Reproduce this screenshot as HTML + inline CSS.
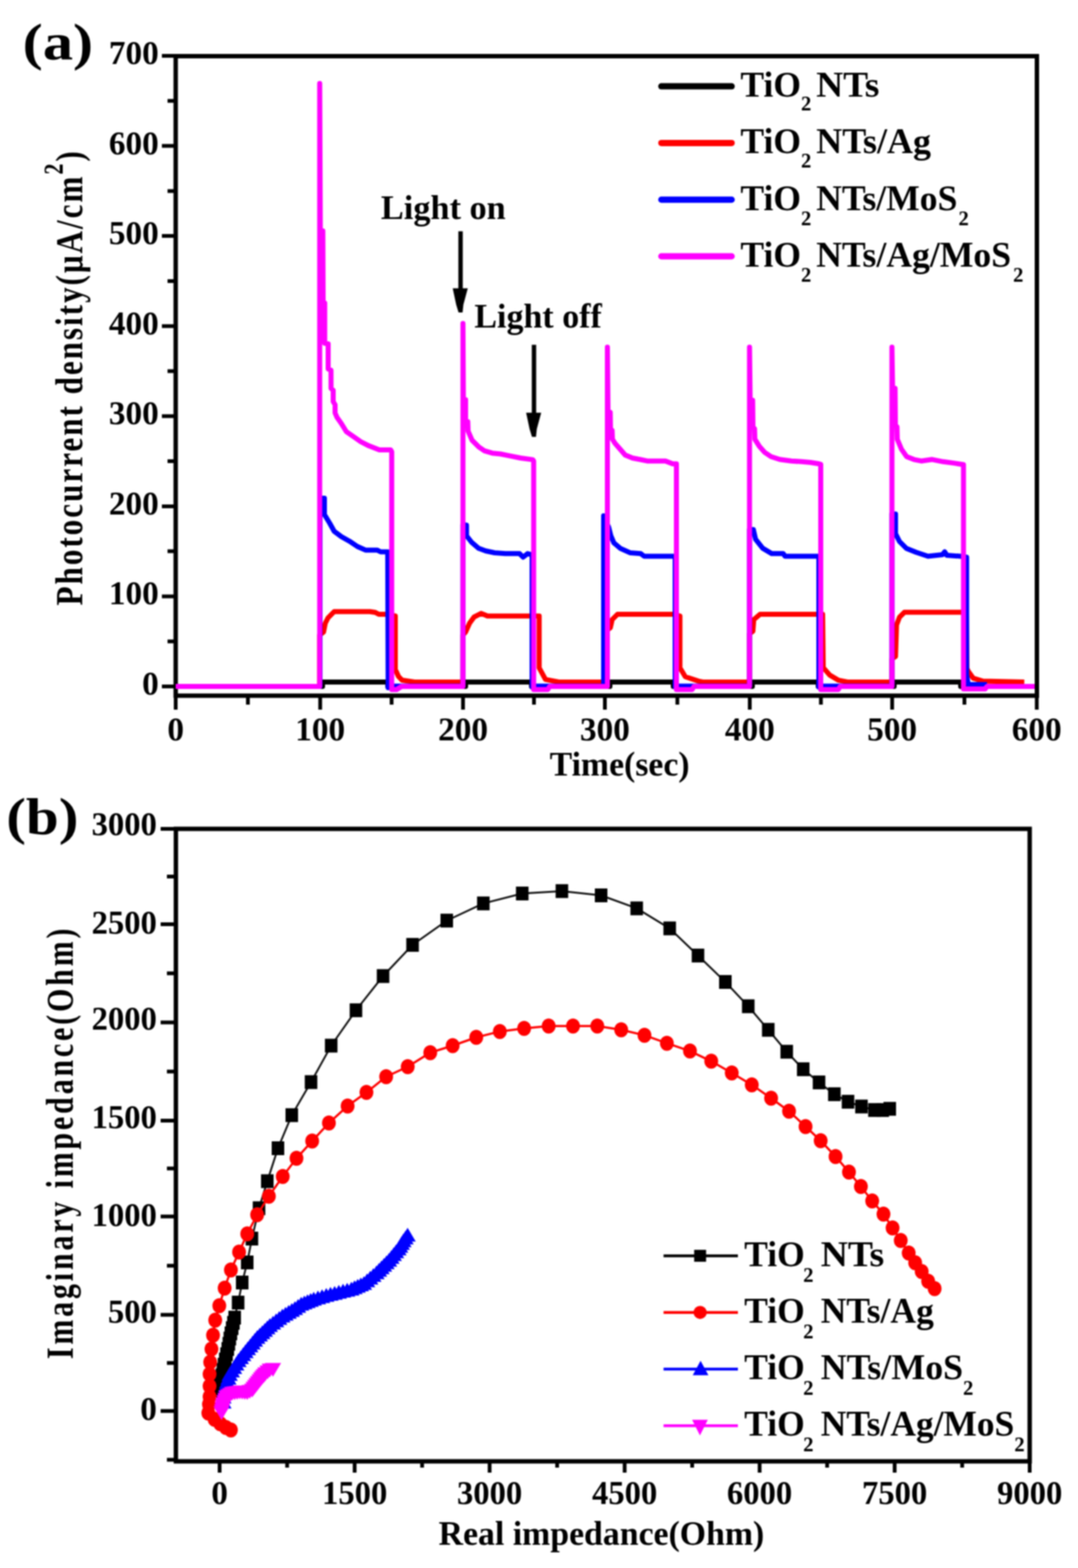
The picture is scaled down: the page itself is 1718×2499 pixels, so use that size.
<!DOCTYPE html>
<html><head><meta charset="utf-8"><title>Photocurrent and EIS of TiO2 NTs composites</title>
<style>
html,body{margin:0;padding:0;background:#fff;}
svg{display:block;}
#fig{width:1718px;height:2499px;filter:blur(1px);}
</style></head>
<body>
<div id="fig">
<svg width="1718" height="2499" viewBox="0 0 1718 2499">
<rect width="1718" height="2499" fill="#fff"/>
<g id="panel-a">
<path d="M280.0,89.5 H1652.5 V1108.8 H280.0 Z" fill="none" stroke="#000" stroke-width="7" stroke-linejoin="miter"/>
<path d="M258,1094.0H280.0M267,1022.2H280.0M258,950.4H280.0M267,878.6H280.0M258,806.9H280.0M267,735.1H280.0M258,663.3H280.0M267,591.5H280.0M258,519.7H280.0M267,447.9H280.0M258,376.1H280.0M267,304.4H280.0M258,232.6H280.0M267,160.8H280.0M258,89.0H280.0M280.0,1108.8V1131M395.1,1108.8V1123M510.3,1108.8V1131M624.1,1108.8V1123M737.9,1108.8V1131M851.0,1108.8V1123M964.0,1108.8V1131M1079.5,1108.8V1123M1194.9,1108.8V1131M1308.3,1108.8V1123M1421.8,1108.8V1131M1537.0,1108.8V1123M1652.3,1108.8V1131" stroke="#000" stroke-width="6" fill="none"/>
<g font-family="'Liberation Serif','Times New Roman',serif" font-weight="bold" font-size="53" fill="#000">
<text x="253" y="1107.0" text-anchor="end">0</text>
<text x="253" y="963.4" text-anchor="end">100</text>
<text x="253" y="819.9" text-anchor="end">200</text>
<text x="253" y="676.3" text-anchor="end">300</text>
<text x="253" y="532.7" text-anchor="end">400</text>
<text x="253" y="389.1" text-anchor="end">500</text>
<text x="253" y="245.6" text-anchor="end">600</text>
<text x="253" y="102.0" text-anchor="end">700</text>
<text x="280.0" y="1180" text-anchor="middle">0</text>
<text x="510.3" y="1180" text-anchor="middle">100</text>
<text x="737.9" y="1180" text-anchor="middle">200</text>
<text x="964.0" y="1180" text-anchor="middle">300</text>
<text x="1194.9" y="1180" text-anchor="middle">400</text>
<text x="1421.8" y="1180" text-anchor="middle">500</text>
<text x="1652.3" y="1180" text-anchor="middle">600</text>
</g>
<text x="876" y="1236" font-family="'Liberation Serif','Times New Roman',serif" font-weight="bold" font-size="54" textLength="223" lengthAdjust="spacingAndGlyphs">Time(sec)</text>
<text transform="translate(131,965) rotate(-90) scale(0.8,1)" font-family="'Liberation Serif','Times New Roman',serif" font-weight="bold" font-size="62" textLength="905.0" lengthAdjust="spacing">Photocurrent density(&#956;A/cm<tspan font-size="44" dy="-31">2</tspan><tspan dy="31">)</tspan></text>
<text x="36" y="94.8" font-family="'Liberation Serif','Times New Roman',serif" font-weight="bold" font-size="82" textLength="112.5" lengthAdjust="spacingAndGlyphs">(a)</text>
<polyline points="280.0,1094.0 514.0,1094.0 514.0,1087.0 618.0,1087.0 618.0,1094.0 742.0,1094.0 742.0,1087.0 847.0,1087.0 847.0,1094.0 972.0,1094.0 972.0,1087.0 1073.0,1087.0 1073.0,1094.0 1199.0,1094.0 1199.0,1087.0 1304.0,1087.0 1304.0,1094.0 1425.0,1094.0 1425.0,1087.0 1531.0,1087.0 1531.0,1094.0 1570.0,1094.0" fill="none" stroke="#000000" stroke-width="8" stroke-linejoin="round" stroke-linecap="butt"/>
<polyline points="280.0,1094.0 509.5,1094.0 509.5,1012.0 515.6,1007.4 518.4,993.2 522.7,984.7 532.6,974.7 554.0,974.7 589.5,974.7 598.0,976.0 603.7,979.0 615.0,979.0 630.0,981.8 630.0,1067.0 635.0,1078.0 640.7,1084.0 660.6,1087.0 737.8,1087.0 737.8,1012.0 742.0,1007.4 748.4,993.2 755.5,983.3 766.9,977.6 776.9,981.8 846.5,981.8 859.3,981.8 859.3,1064.3 869.3,1082.8 890.6,1087.0 968.0,1087.0 968.0,1004.0 972.7,1000.3 975.6,987.5 984.1,979.0 992.6,979.0 1073.7,979.0 1083.6,981.8 1083.6,1064.3 1092.1,1078.5 1113.5,1085.6 1120.0,1087.0 1194.5,1087.0 1194.5,1010.0 1199.9,1006.0 1201.3,987.5 1211.3,979.0 1303.7,979.0 1311.0,979.0 1312.0,1064.0 1322.1,1075.7 1336.4,1084.2 1350.6,1087.0 1421.5,1087.0 1421.5,1050.0 1427.2,1046.3 1428.8,996.2 1433.5,983.6 1441.3,975.8 1532.2,975.8 1540.0,976.0 1541.0,1065.0 1543.1,1069.8 1551.0,1080.8 1566.6,1085.5 1632.4,1087.0" fill="none" stroke="#ff0000" stroke-width="8" stroke-linejoin="round" stroke-linecap="butt"/>
<polyline points="280.0,1094.0 510.0,1094.0 510.0,794.0 517.0,794.0 517.0,820.0 525.5,834.0 532.6,846.8 544.0,855.3 556.8,862.4 569.6,871.0 582.4,876.7 600.9,876.7 606.6,879.5 617.9,879.5 618.6,1096.0 626.0,1093.5 737.8,1093.5 737.8,836.0 743.5,836.9 743.5,853.9 751.3,863.9 762.6,873.8 774.0,878.0 788.2,881.0 805.3,882.3 828.0,882.3 833.7,888.0 840.8,882.3 846.5,883.8 848.0,884.0 848.0,1095.0 853.0,1093.5 962.0,1093.5 962.0,822.0 970.0,840.0 973.5,853.9 978.4,865.3 988.4,873.8 1004.0,880.9 1021.0,882.3 1026.8,886.6 1073.7,886.6 1076.0,887.0 1076.0,1095.0 1081.0,1093.5 1194.5,1093.5 1194.5,844.0 1200.6,844.0 1204.2,859.6 1215.5,873.8 1229.8,882.3 1248.2,882.3 1251.1,886.6 1303.7,886.6 1305.0,887.0 1305.0,1095.0 1310.0,1093.5 1421.5,1093.5 1421.5,819.0 1427.2,819.2 1427.2,850.5 1433.5,863.0 1444.5,874.0 1460.1,880.3 1478.9,886.5 1502.0,884.0 1505.5,879.5 1509.0,885.0 1530.6,886.5 1540.5,888.0 1540.5,1075.0 1543.0,1091.0 1572.9,1091.0" fill="none" stroke="#0000ff" stroke-width="8" stroke-linejoin="round" stroke-linecap="butt"/>
<polyline points="280.0,1094.0 509.5,1094.0 509.5,133.0 510.5,368.0 514.5,368.0 515.0,483.0 517.5,483.0 517.5,547.0 523.0,548.0 523.0,588.0 527.5,590.0 527.6,619.0 531.0,622.0 531.0,640.0 534.0,645.0 534.0,658.0 537.0,665.0 544.0,675.0 552.0,688.0 563.6,696.0 575.0,704.0 588.0,710.6 604.6,717.0 622.6,717.0 624.3,720.0 624.3,1099.0 632.0,1099.0 640.0,1094.0 737.8,1094.0 737.8,515.5 738.5,637.0 742.0,637.0 742.0,672.0 745.5,672.0 746.0,687.0 752.3,701.6 762.6,711.9 771.7,718.3 784.6,722.2 797.5,723.5 810.4,726.1 829.8,730.0 849.2,732.6 850.5,735.0 850.5,1099.0 873.0,1099.0 876.0,1094.0 968.0,1094.0 968.0,553.3 969.0,656.0 972.5,657.0 973.0,686.0 975.5,686.0 976.0,700.0 980.2,706.7 988.4,716.0 996.5,725.3 1008.0,730.0 1019.8,732.3 1031.4,734.7 1060.5,734.7 1072.1,739.3 1078.0,739.3 1078.0,1099.0 1103.0,1099.0 1106.0,1094.0 1194.5,1094.0 1194.5,553.3 1195.5,637.0 1199.5,638.0 1200.0,682.0 1202.5,683.0 1203.0,700.0 1210.2,711.4 1218.4,720.7 1228.8,727.7 1242.8,732.3 1261.4,734.7 1277.7,735.8 1291.6,737.0 1305.6,739.3 1308.0,740.0 1308.0,1099.0 1336.0,1099.0 1339.0,1094.0 1421.5,1094.0 1421.5,553.3 1422.5,618.0 1426.5,619.0 1427.0,679.0 1429.5,680.0 1430.0,700.0 1436.7,716.0 1444.9,727.7 1456.5,732.3 1468.1,734.7 1485.6,732.3 1503.0,735.8 1520.5,738.1 1535.5,740.5 1535.5,1098.0 1570.0,1098.0 1573.0,1094.0 1649.0,1094.0" fill="none" stroke="#ff00ff" stroke-width="8" stroke-linejoin="round" stroke-linecap="butt"/>
<g fill="#000">
<rect x="730.5" y="368.6" width="7" height="93.9"/>
<polygon points="721.5,459.5 745.5,459.5 738.5,485.5 737.2,498.0 730.8,498.0 727.0,485.5"/>
<rect x="847.5" y="549.5" width="7" height="111.3"/>
<polygon points="838.5,657.8 862.5,657.8 855.5,683.8 854.2,696.3 847.8,696.3 844.0,683.8"/>
</g>
<g font-family="'Liberation Serif','Times New Roman',serif" font-weight="bold" font-size="54">
<text x="607" y="348.5" textLength="199" lengthAdjust="spacingAndGlyphs">Light on</text>
<text x="756" y="522" textLength="203" lengthAdjust="spacingAndGlyphs">Light off</text>
</g>
<line x1="1054" y1="137.6" x2="1166" y2="137.6" stroke="#000000" stroke-width="10" stroke-linecap="round"/>
<g font-family="'Liberation Serif','Times New Roman',serif" font-weight="bold" fill="#000">
<text x="1180" y="153.9" font-size="57" textLength="96.5" lengthAdjust="spacingAndGlyphs">TiO</text>
<text x="1276.5" y="176.4" font-size="33">2</text>
<text x="1300.8" y="153.9" font-size="57" textLength="100.6" lengthAdjust="spacingAndGlyphs">NTs</text>
</g>
<line x1="1054" y1="227.9" x2="1166" y2="227.9" stroke="#ff0000" stroke-width="10" stroke-linecap="round"/>
<g font-family="'Liberation Serif','Times New Roman',serif" font-weight="bold" fill="#000">
<text x="1180" y="244.2" font-size="57" textLength="96.5" lengthAdjust="spacingAndGlyphs">TiO</text>
<text x="1276.5" y="266.7" font-size="33">2</text>
<text x="1300.8" y="244.2" font-size="57" textLength="183.0" lengthAdjust="spacingAndGlyphs">NTs/Ag</text>
</g>
<line x1="1054" y1="318.2" x2="1166" y2="318.2" stroke="#0000ff" stroke-width="10" stroke-linecap="round"/>
<g font-family="'Liberation Serif','Times New Roman',serif" font-weight="bold" fill="#000">
<text x="1180" y="334.5" font-size="57" textLength="96.5" lengthAdjust="spacingAndGlyphs">TiO</text>
<text x="1276.5" y="358.5" font-size="33">2</text>
<text x="1300.8" y="334.5" font-size="57" textLength="224.9" lengthAdjust="spacingAndGlyphs">NTs/MoS</text>
<text x="1527.4" y="358.5" font-size="33">2</text>
</g>
<line x1="1054" y1="408.5" x2="1166" y2="408.5" stroke="#ff00ff" stroke-width="10" stroke-linecap="round"/>
<g font-family="'Liberation Serif','Times New Roman',serif" font-weight="bold" fill="#000">
<text x="1180" y="424.8" font-size="57" textLength="96.5" lengthAdjust="spacingAndGlyphs">TiO</text>
<text x="1276.5" y="448.8" font-size="33">2</text>
<text x="1300.8" y="424.8" font-size="57" textLength="310.6" lengthAdjust="spacingAndGlyphs">NTs/Ag/MoS</text>
<text x="1614.5" y="448.8" font-size="33">2</text>
</g>
</g>
<g id="panel-b">
<path d="M280.3,1321.0 H1641.0 V2329.0 H280.3 Z" fill="none" stroke="#000" stroke-width="7"/>
<path d="M256,2248.8H280.3M266,2172.2H280.3M256,2095.6H280.3M266,2017.2H280.3M256,1938.7H280.3M266,1862.3H280.3M256,1786.0H280.3M266,1707.7H280.3M256,1629.4H280.3M266,1551.2H280.3M256,1472.9H280.3M266,1397.0H280.3M256,1321.0H280.3M266,2326.5H280.3M350.0,2329.0V2347M457.6,2329.0V2339M565.2,2329.0V2347M672.7,2329.0V2339M780.3,2329.0V2347M887.9,2329.0V2339M995.5,2329.0V2347M1103.1,2329.0V2339M1210.6,2329.0V2347M1318.2,2329.0V2339M1425.8,2329.0V2347M1533.4,2329.0V2339M1641.0,2329.0V2347" stroke="#000" stroke-width="6" fill="none"/>
<g font-family="'Liberation Serif','Times New Roman',serif" font-weight="bold" font-size="53" fill="#000">
<text x="250" y="2263.0" text-anchor="end">0</text>
<text x="172.0" y="2108.0" textLength="78.0" lengthAdjust="spacingAndGlyphs">500</text>
<text x="146.0" y="1954.0" textLength="104.0" lengthAdjust="spacingAndGlyphs">1000</text>
<text x="146.0" y="1797.5" textLength="104.0" lengthAdjust="spacingAndGlyphs">1500</text>
<text x="146.0" y="1641.0" textLength="104.0" lengthAdjust="spacingAndGlyphs">2000</text>
<text x="146.0" y="1487.5" textLength="104.0" lengthAdjust="spacingAndGlyphs">2500</text>
<text x="146.0" y="1331.0" textLength="104.0" lengthAdjust="spacingAndGlyphs">3000</text>
</g>
<g font-family="'Liberation Serif','Times New Roman',serif" font-weight="bold" font-size="53" fill="#000">
<text x="350.0" y="2397" text-anchor="middle">0</text>
<text x="513.2" y="2397" textLength="104.0" lengthAdjust="spacingAndGlyphs">1500</text>
<text x="728.3" y="2397" textLength="104.0" lengthAdjust="spacingAndGlyphs">3000</text>
<text x="943.5" y="2397" textLength="104.0" lengthAdjust="spacingAndGlyphs">4500</text>
<text x="1158.6" y="2397" textLength="104.0" lengthAdjust="spacingAndGlyphs">6000</text>
<text x="1373.8" y="2397" textLength="104.0" lengthAdjust="spacingAndGlyphs">7500</text>
<text x="1589.0" y="2397" textLength="104.0" lengthAdjust="spacingAndGlyphs">9000</text>
</g>
<text x="699" y="2462" font-family="'Liberation Serif','Times New Roman',serif" font-weight="bold" font-size="54" textLength="519" lengthAdjust="spacingAndGlyphs">Real impedance(Ohm)</text>
<text transform="translate(116,2166) rotate(-90) scale(0.78,1)" font-family="'Liberation Serif','Times New Roman',serif" font-weight="bold" font-size="61" textLength="879.5" lengthAdjust="spacing">Imaginary impedance(Ohm)</text>
<text x="10" y="1329" font-family="'Liberation Serif','Times New Roman',serif" font-weight="bold" font-size="82" textLength="115" lengthAdjust="spacingAndGlyphs">(b)</text>
<polyline points="347.0,2216.0 349.5,2208.0 352.0,2200.0 353.7,2191.7 355.3,2183.3 357.0,2175.0 359.0,2166.7 361.0,2158.3 363.0,2150.0 364.7,2141.7 366.3,2133.3 368.0,2125.0 370.0,2116.7 372.0,2108.3 374.0,2100.0 379.5,2076.0 386.0,2044.0 394.0,2012.0 401.5,1974.0 412.8,1925.6 426.0,1882.5 443.0,1830.0 465.0,1777.3 495.7,1724.6 527.8,1666.5 567.3,1610.1 610.5,1555.6 657.5,1505.9 712.0,1467.2 770.3,1439.8 832.3,1424.0 895.5,1420.2 958.0,1427.0 1014.7,1447.7 1067.3,1479.6 1112.4,1522.9 1156.0,1565.0 1192.5,1603.7 1224.4,1641.3 1253.8,1676.2 1280.1,1704.1 1305.3,1725.1 1329.7,1743.9 1351.5,1755.9 1372.9,1763.5 1393.6,1769.1 1406.8,1769.1 1418.0,1767.2" fill="none" stroke="#111" stroke-width="3"/>
<g fill="#000"><rect x="337.0" y="2205.0" width="20" height="22"/><rect x="339.5" y="2197.0" width="20" height="22"/><rect x="342.0" y="2189.0" width="20" height="22"/><rect x="343.7" y="2180.7" width="20" height="22"/><rect x="345.3" y="2172.3" width="20" height="22"/><rect x="347.0" y="2164.0" width="20" height="22"/><rect x="349.0" y="2155.7" width="20" height="22"/><rect x="351.0" y="2147.3" width="20" height="22"/><rect x="353.0" y="2139.0" width="20" height="22"/><rect x="354.7" y="2130.7" width="20" height="22"/><rect x="356.3" y="2122.3" width="20" height="22"/><rect x="358.0" y="2114.0" width="20" height="22"/><rect x="360.0" y="2105.7" width="20" height="22"/><rect x="362.0" y="2097.3" width="20" height="22"/><rect x="364.0" y="2089.0" width="20" height="22"/><rect x="369.5" y="2065.0" width="20" height="22"/><rect x="376.0" y="2033.0" width="20" height="22"/><rect x="384.0" y="2001.0" width="20" height="22"/><rect x="391.5" y="1963.0" width="20" height="22"/><rect x="402.8" y="1914.6" width="20" height="22"/><rect x="416.0" y="1871.5" width="20" height="22"/><rect x="433.0" y="1819.0" width="20" height="22"/><rect x="455.0" y="1766.3" width="20" height="22"/><rect x="485.7" y="1713.6" width="20" height="22"/><rect x="517.8" y="1655.5" width="20" height="22"/><rect x="557.3" y="1599.1" width="20" height="22"/><rect x="600.5" y="1544.6" width="20" height="22"/><rect x="647.5" y="1494.9" width="20" height="22"/><rect x="702.0" y="1456.2" width="20" height="22"/><rect x="760.3" y="1428.8" width="20" height="22"/><rect x="822.3" y="1413.0" width="20" height="22"/><rect x="885.5" y="1409.2" width="20" height="22"/><rect x="948.0" y="1416.0" width="20" height="22"/><rect x="1004.7" y="1436.7" width="20" height="22"/><rect x="1057.3" y="1468.6" width="20" height="22"/><rect x="1102.4" y="1511.9" width="20" height="22"/><rect x="1146.0" y="1554.0" width="20" height="22"/><rect x="1182.5" y="1592.7" width="20" height="22"/><rect x="1214.4" y="1630.3" width="20" height="22"/><rect x="1243.8" y="1665.2" width="20" height="22"/><rect x="1270.1" y="1693.1" width="20" height="22"/><rect x="1295.3" y="1714.1" width="20" height="22"/><rect x="1319.7" y="1732.9" width="20" height="22"/><rect x="1341.5" y="1744.9" width="20" height="22"/><rect x="1362.9" y="1752.5" width="20" height="22"/><rect x="1383.6" y="1758.1" width="20" height="22"/><rect x="1396.8" y="1758.1" width="20" height="22"/><rect x="1408.0" y="1756.2" width="20" height="22"/></g>
<polyline points="368.0,2279.0 360.0,2275.0 351.0,2269.0 342.0,2262.0 332.0,2252.0 333.0,2238.0 334.0,2226.0 334.0,2209.0 334.0,2190.0 335.0,2171.0 337.0,2150.0 339.5,2128.0 343.0,2104.0 349.5,2081.0 358.0,2053.0 368.0,2024.0 381.0,1995.5 394.0,1966.5 409.8,1936.1 428.5,1906.5 450.6,1875.0 472.5,1846.0 497.5,1818.5 524.2,1789.8 554.0,1762.7 584.0,1741.0 615.4,1716.0 649.8,1700.0 685.7,1677.7 721.4,1666.5 759.0,1653.3 796.6,1643.9 835.3,1639.0 874.4,1635.3 913.2,1635.3 951.9,1635.3 990.0,1641.3 1027.1,1649.9 1062.8,1662.7 1099.6,1675.1 1133.5,1691.3 1166.2,1710.1 1198.1,1728.9 1228.9,1750.3 1257.5,1771.0 1283.8,1795.4 1307.9,1818.0 1331.6,1843.2 1353.0,1868.0 1372.0,1891.0 1390.0,1914.0 1408.0,1935.0 1422.5,1957.0 1435.5,1977.0 1448.2,1996.9 1458.5,2012.4 1468.9,2026.6 1479.2,2042.1 1489.5,2053.7" fill="none" stroke="#ff0000" stroke-width="3.5"/>
<g fill="#ff0000"><ellipse cx="368.0" cy="2279.0" rx="11.0" ry="12.0"/><ellipse cx="360.0" cy="2275.0" rx="11.0" ry="12.0"/><ellipse cx="351.0" cy="2269.0" rx="11.0" ry="12.0"/><ellipse cx="342.0" cy="2262.0" rx="11.0" ry="12.0"/><ellipse cx="332.0" cy="2252.0" rx="11.0" ry="12.0"/><ellipse cx="333.0" cy="2238.0" rx="11.0" ry="12.0"/><ellipse cx="334.0" cy="2226.0" rx="11.0" ry="12.0"/><ellipse cx="334.0" cy="2209.0" rx="11.0" ry="12.0"/><ellipse cx="334.0" cy="2190.0" rx="11.0" ry="12.0"/><ellipse cx="335.0" cy="2171.0" rx="11.0" ry="12.0"/><ellipse cx="337.0" cy="2150.0" rx="11.0" ry="12.0"/><ellipse cx="339.5" cy="2128.0" rx="11.0" ry="12.0"/><ellipse cx="343.0" cy="2104.0" rx="11.0" ry="12.0"/><ellipse cx="349.5" cy="2081.0" rx="11.0" ry="12.0"/><ellipse cx="358.0" cy="2053.0" rx="11.0" ry="12.0"/><ellipse cx="368.0" cy="2024.0" rx="11.0" ry="12.0"/><ellipse cx="381.0" cy="1995.5" rx="11.0" ry="12.0"/><ellipse cx="394.0" cy="1966.5" rx="11.0" ry="12.0"/><ellipse cx="409.8" cy="1936.1" rx="11.0" ry="12.0"/><ellipse cx="428.5" cy="1906.5" rx="11.0" ry="12.0"/><ellipse cx="450.6" cy="1875.0" rx="11.0" ry="12.0"/><ellipse cx="472.5" cy="1846.0" rx="11.0" ry="12.0"/><ellipse cx="497.5" cy="1818.5" rx="11.0" ry="12.0"/><ellipse cx="524.2" cy="1789.8" rx="11.0" ry="12.0"/><ellipse cx="554.0" cy="1762.7" rx="11.0" ry="12.0"/><ellipse cx="584.0" cy="1741.0" rx="11.0" ry="12.0"/><ellipse cx="615.4" cy="1716.0" rx="11.0" ry="12.0"/><ellipse cx="649.8" cy="1700.0" rx="11.0" ry="12.0"/><ellipse cx="685.7" cy="1677.7" rx="11.0" ry="12.0"/><ellipse cx="721.4" cy="1666.5" rx="11.0" ry="12.0"/><ellipse cx="759.0" cy="1653.3" rx="11.0" ry="12.0"/><ellipse cx="796.6" cy="1643.9" rx="11.0" ry="12.0"/><ellipse cx="835.3" cy="1639.0" rx="11.0" ry="12.0"/><ellipse cx="874.4" cy="1635.3" rx="11.0" ry="12.0"/><ellipse cx="913.2" cy="1635.3" rx="11.0" ry="12.0"/><ellipse cx="951.9" cy="1635.3" rx="11.0" ry="12.0"/><ellipse cx="990.0" cy="1641.3" rx="11.0" ry="12.0"/><ellipse cx="1027.1" cy="1649.9" rx="11.0" ry="12.0"/><ellipse cx="1062.8" cy="1662.7" rx="11.0" ry="12.0"/><ellipse cx="1099.6" cy="1675.1" rx="11.0" ry="12.0"/><ellipse cx="1133.5" cy="1691.3" rx="11.0" ry="12.0"/><ellipse cx="1166.2" cy="1710.1" rx="11.0" ry="12.0"/><ellipse cx="1198.1" cy="1728.9" rx="11.0" ry="12.0"/><ellipse cx="1228.9" cy="1750.3" rx="11.0" ry="12.0"/><ellipse cx="1257.5" cy="1771.0" rx="11.0" ry="12.0"/><ellipse cx="1283.8" cy="1795.4" rx="11.0" ry="12.0"/><ellipse cx="1307.9" cy="1818.0" rx="11.0" ry="12.0"/><ellipse cx="1331.6" cy="1843.2" rx="11.0" ry="12.0"/><ellipse cx="1353.0" cy="1868.0" rx="11.0" ry="12.0"/><ellipse cx="1372.0" cy="1891.0" rx="11.0" ry="12.0"/><ellipse cx="1390.0" cy="1914.0" rx="11.0" ry="12.0"/><ellipse cx="1408.0" cy="1935.0" rx="11.0" ry="12.0"/><ellipse cx="1422.5" cy="1957.0" rx="11.0" ry="12.0"/><ellipse cx="1435.5" cy="1977.0" rx="11.0" ry="12.0"/><ellipse cx="1448.2" cy="1996.9" rx="11.0" ry="12.0"/><ellipse cx="1458.5" cy="2012.4" rx="11.0" ry="12.0"/><ellipse cx="1468.9" cy="2026.6" rx="11.0" ry="12.0"/><ellipse cx="1479.2" cy="2042.1" rx="11.0" ry="12.0"/><ellipse cx="1489.5" cy="2053.7" rx="11.0" ry="12.0"/></g>
<polyline points="356.0,2236.0 356.0,2228.0 357.3,2222.0 358.7,2216.0 360.0,2210.0 362.0,2204.0 364.0,2198.0 366.0,2192.0 369.5,2186.5 373.0,2181.0 376.5,2175.5 380.0,2170.0 383.8,2165.2 387.5,2160.5 391.2,2155.8 395.0,2151.0 398.8,2146.5 402.5,2142.0 406.2,2137.5 410.0,2133.0 414.0,2129.2 418.0,2125.4 422.0,2121.6 426.0,2117.8 430.0,2114.0 435.0,2110.2 440.0,2106.5 445.0,2102.8 450.0,2099.0 455.0,2096.0 460.0,2093.0 465.0,2090.0 470.0,2087.0 475.0,2083.5 480.0,2080.0 485.0,2078.0 490.0,2076.0 495.0,2074.0 500.0,2072.0 506.7,2070.0 513.3,2068.0 520.0,2066.0 526.7,2064.3 533.3,2062.7 540.0,2061.0 546.7,2059.3 553.3,2057.7 560.0,2056.0 565.0,2053.8 570.0,2051.5 575.0,2049.2 580.0,2047.0 585.0,2042.8 590.0,2038.5 595.0,2034.2 600.0,2030.0 604.0,2026.0 608.0,2022.0 612.0,2018.0 616.0,2014.0 620.0,2010.0 623.8,2005.5 627.5,2001.0 631.2,1996.5 635.0,1992.0 637.7,1987.7 640.3,1983.3 643.0,1979.0 646.3,1974.5 649.6,1970.0" fill="none" stroke="#0000ff" stroke-width="4"/>
<g fill="#0000ff"><polygon points="356.0,2222.8 369.0,2244.8 343.0,2244.8"/><polygon points="356.0,2214.8 369.0,2236.8 343.0,2236.8"/><polygon points="357.3,2208.8 370.3,2230.8 344.3,2230.8"/><polygon points="358.7,2202.8 371.7,2224.8 345.7,2224.8"/><polygon points="360.0,2196.8 373.0,2218.8 347.0,2218.8"/><polygon points="362.0,2190.8 375.0,2212.8 349.0,2212.8"/><polygon points="364.0,2184.8 377.0,2206.8 351.0,2206.8"/><polygon points="366.0,2178.8 379.0,2200.8 353.0,2200.8"/><polygon points="369.5,2173.3 382.5,2195.3 356.5,2195.3"/><polygon points="373.0,2167.8 386.0,2189.8 360.0,2189.8"/><polygon points="376.5,2162.3 389.5,2184.3 363.5,2184.3"/><polygon points="380.0,2156.8 393.0,2178.8 367.0,2178.8"/><polygon points="383.8,2152.1 396.8,2174.1 370.8,2174.1"/><polygon points="387.5,2147.3 400.5,2169.3 374.5,2169.3"/><polygon points="391.2,2142.6 404.2,2164.6 378.2,2164.6"/><polygon points="395.0,2137.8 408.0,2159.8 382.0,2159.8"/><polygon points="398.8,2133.3 411.8,2155.3 385.8,2155.3"/><polygon points="402.5,2128.8 415.5,2150.8 389.5,2150.8"/><polygon points="406.2,2124.3 419.2,2146.3 393.2,2146.3"/><polygon points="410.0,2119.8 423.0,2141.8 397.0,2141.8"/><polygon points="414.0,2116.0 427.0,2138.0 401.0,2138.0"/><polygon points="418.0,2112.2 431.0,2134.2 405.0,2134.2"/><polygon points="422.0,2108.4 435.0,2130.4 409.0,2130.4"/><polygon points="426.0,2104.6 439.0,2126.6 413.0,2126.6"/><polygon points="430.0,2100.8 443.0,2122.8 417.0,2122.8"/><polygon points="435.0,2097.1 448.0,2119.1 422.0,2119.1"/><polygon points="440.0,2093.3 453.0,2115.3 427.0,2115.3"/><polygon points="445.0,2089.6 458.0,2111.6 432.0,2111.6"/><polygon points="450.0,2085.8 463.0,2107.8 437.0,2107.8"/><polygon points="455.0,2082.8 468.0,2104.8 442.0,2104.8"/><polygon points="460.0,2079.8 473.0,2101.8 447.0,2101.8"/><polygon points="465.0,2076.8 478.0,2098.8 452.0,2098.8"/><polygon points="470.0,2073.8 483.0,2095.8 457.0,2095.8"/><polygon points="475.0,2070.3 488.0,2092.3 462.0,2092.3"/><polygon points="480.0,2066.8 493.0,2088.8 467.0,2088.8"/><polygon points="485.0,2064.8 498.0,2086.8 472.0,2086.8"/><polygon points="490.0,2062.8 503.0,2084.8 477.0,2084.8"/><polygon points="495.0,2060.8 508.0,2082.8 482.0,2082.8"/><polygon points="500.0,2058.8 513.0,2080.8 487.0,2080.8"/><polygon points="506.7,2056.8 519.7,2078.8 493.7,2078.8"/><polygon points="513.3,2054.8 526.3,2076.8 500.3,2076.8"/><polygon points="520.0,2052.8 533.0,2074.8 507.0,2074.8"/><polygon points="526.7,2051.1 539.7,2073.1 513.7,2073.1"/><polygon points="533.3,2049.5 546.3,2071.5 520.3,2071.5"/><polygon points="540.0,2047.8 553.0,2069.8 527.0,2069.8"/><polygon points="546.7,2046.1 559.7,2068.1 533.7,2068.1"/><polygon points="553.3,2044.5 566.3,2066.5 540.3,2066.5"/><polygon points="560.0,2042.8 573.0,2064.8 547.0,2064.8"/><polygon points="565.0,2040.5 578.0,2062.6 552.0,2062.6"/><polygon points="570.0,2038.3 583.0,2060.3 557.0,2060.3"/><polygon points="575.0,2036.0 588.0,2058.1 562.0,2058.1"/><polygon points="580.0,2033.8 593.0,2055.8 567.0,2055.8"/><polygon points="585.0,2029.5 598.0,2051.6 572.0,2051.6"/><polygon points="590.0,2025.3 603.0,2047.3 577.0,2047.3"/><polygon points="595.0,2021.0 608.0,2043.0 582.0,2043.0"/><polygon points="600.0,2016.8 613.0,2038.8 587.0,2038.8"/><polygon points="604.0,2012.8 617.0,2034.8 591.0,2034.8"/><polygon points="608.0,2008.8 621.0,2030.8 595.0,2030.8"/><polygon points="612.0,2004.8 625.0,2026.8 599.0,2026.8"/><polygon points="616.0,2000.8 629.0,2022.8 603.0,2022.8"/><polygon points="620.0,1996.8 633.0,2018.8 607.0,2018.8"/><polygon points="623.8,1992.3 636.8,2014.3 610.8,2014.3"/><polygon points="627.5,1987.8 640.5,2009.8 614.5,2009.8"/><polygon points="631.2,1983.3 644.2,2005.3 618.2,2005.3"/><polygon points="635.0,1978.8 648.0,2000.8 622.0,2000.8"/><polygon points="637.7,1974.5 650.7,1996.5 624.7,1996.5"/><polygon points="640.3,1970.1 653.3,1992.1 627.3,1992.1"/><polygon points="643.0,1965.8 656.0,1987.8 630.0,1987.8"/><polygon points="646.3,1961.3 659.3,1983.3 633.3,1983.3"/><polygon points="649.6,1956.8 662.6,1978.8 636.6,1978.8"/></g>
<polyline points="353.0,2250.0 353.8,2246.5 354.5,2243.0 355.2,2239.5 356.0,2236.0 357.7,2232.3 359.3,2228.7 361.0,2225.0 364.0,2223.0 367.0,2221.0 370.0,2219.0 374.0,2218.3 378.0,2217.7 382.0,2217.0 386.0,2217.3 390.0,2217.7 394.0,2218.0 398.0,2216.0 402.0,2214.0 404.3,2211.0 406.7,2208.0 409.0,2205.0 411.3,2202.0 413.7,2199.0 416.0,2196.0 418.3,2193.3 420.7,2190.7 423.0,2188.0 426.5,2185.0 430.0,2182.0 435.0,2181.0" fill="none" stroke="#ff00ff" stroke-width="4"/>
<g fill="#ff00ff"><polygon points="340.0,2241.2 366.0,2241.2 353.0,2263.2"/><polygon points="340.8,2237.7 366.8,2237.7 353.8,2259.7"/><polygon points="341.5,2234.2 367.5,2234.2 354.5,2256.2"/><polygon points="342.2,2230.7 368.2,2230.7 355.2,2252.7"/><polygon points="343.0,2227.2 369.0,2227.2 356.0,2249.2"/><polygon points="344.7,2223.5 370.7,2223.5 357.7,2245.5"/><polygon points="346.3,2219.9 372.3,2219.9 359.3,2241.9"/><polygon points="348.0,2216.2 374.0,2216.2 361.0,2238.2"/><polygon points="351.0,2214.2 377.0,2214.2 364.0,2236.2"/><polygon points="354.0,2212.2 380.0,2212.2 367.0,2234.2"/><polygon points="357.0,2210.2 383.0,2210.2 370.0,2232.2"/><polygon points="361.0,2209.5 387.0,2209.5 374.0,2231.5"/><polygon points="365.0,2208.9 391.0,2208.9 378.0,2230.9"/><polygon points="369.0,2208.2 395.0,2208.2 382.0,2230.2"/><polygon points="373.0,2208.5 399.0,2208.5 386.0,2230.5"/><polygon points="377.0,2208.9 403.0,2208.9 390.0,2230.9"/><polygon points="381.0,2209.2 407.0,2209.2 394.0,2231.2"/><polygon points="385.0,2207.2 411.0,2207.2 398.0,2229.2"/><polygon points="389.0,2205.2 415.0,2205.2 402.0,2227.2"/><polygon points="391.3,2202.2 417.3,2202.2 404.3,2224.2"/><polygon points="393.7,2199.2 419.7,2199.2 406.7,2221.2"/><polygon points="396.0,2196.2 422.0,2196.2 409.0,2218.2"/><polygon points="398.3,2193.2 424.3,2193.2 411.3,2215.2"/><polygon points="400.7,2190.2 426.7,2190.2 413.7,2212.2"/><polygon points="403.0,2187.2 429.0,2187.2 416.0,2209.2"/><polygon points="405.3,2184.5 431.3,2184.5 418.3,2206.5"/><polygon points="407.7,2181.9 433.7,2181.9 420.7,2203.9"/><polygon points="410.0,2179.2 436.0,2179.2 423.0,2201.2"/><polygon points="413.5,2176.2 439.5,2176.2 426.5,2198.2"/><polygon points="417.0,2173.2 443.0,2173.2 430.0,2195.2"/><polygon points="422.0,2172.2 448.0,2172.2 435.0,2194.2"/></g>
<line x1="1057.5" y1="2001.4" x2="1176" y2="2001.4" stroke="#000000" stroke-width="4.5"/>
<g fill="#000000"><rect x="1106.3" y="1991.9" width="19" height="19"/></g>
<g font-family="'Liberation Serif','Times New Roman',serif" font-weight="bold" fill="#000">
<text x="1186" y="2017.5" font-size="57" textLength="96.5" lengthAdjust="spacingAndGlyphs">TiO</text>
<text x="1280" y="2042.5" font-size="33">2</text>
<text x="1308" y="2017.5" font-size="57" textLength="101.2" lengthAdjust="spacingAndGlyphs">NTs</text>
</g>
<line x1="1057.5" y1="2091.7" x2="1176" y2="2091.7" stroke="#ff0000" stroke-width="4.5"/>
<g fill="#ff0000"><ellipse cx="1115.8" cy="2091.7" rx="10.5" ry="10.5"/></g>
<g font-family="'Liberation Serif','Times New Roman',serif" font-weight="bold" fill="#000">
<text x="1186" y="2107.7" font-size="57" textLength="96.5" lengthAdjust="spacingAndGlyphs">TiO</text>
<text x="1280" y="2132.7" font-size="33">2</text>
<text x="1308" y="2107.7" font-size="57" textLength="180.2" lengthAdjust="spacingAndGlyphs">NTs/Ag</text>
</g>
<line x1="1057.5" y1="2182.0" x2="1176" y2="2182.0" stroke="#0000ff" stroke-width="4.5"/>
<g fill="#0000ff"><polygon points="1116.5,2168.7 1129.0,2191.7 1104.0,2191.7"/></g>
<g font-family="'Liberation Serif','Times New Roman',serif" font-weight="bold" fill="#000">
<text x="1186" y="2197.9" font-size="57" textLength="96.5" lengthAdjust="spacingAndGlyphs">TiO</text>
<text x="1280" y="2222.9" font-size="33">2</text>
<text x="1308" y="2197.9" font-size="57" textLength="226.8" lengthAdjust="spacingAndGlyphs">NTs/MoS</text>
<text x="1534.8" y="2222.9" font-size="33">2</text>
</g>
<line x1="1057.5" y1="2272.3" x2="1176" y2="2272.3" stroke="#ff00ff" stroke-width="4.5"/>
<g fill="#ff00ff"><polygon points="1103.0,2262.8 1128.0,2262.8 1115.5,2287.8"/></g>
<g font-family="'Liberation Serif','Times New Roman',serif" font-weight="bold" fill="#000">
<text x="1186" y="2288.1" font-size="57" textLength="96.5" lengthAdjust="spacingAndGlyphs">TiO</text>
<text x="1280" y="2313.1" font-size="33">2</text>
<text x="1308" y="2288.1" font-size="57" textLength="308.5" lengthAdjust="spacingAndGlyphs">NTs/Ag/MoS</text>
<text x="1616.5" y="2313.1" font-size="33">2</text>
</g>
</g>
</svg>
</div>
</body></html>
